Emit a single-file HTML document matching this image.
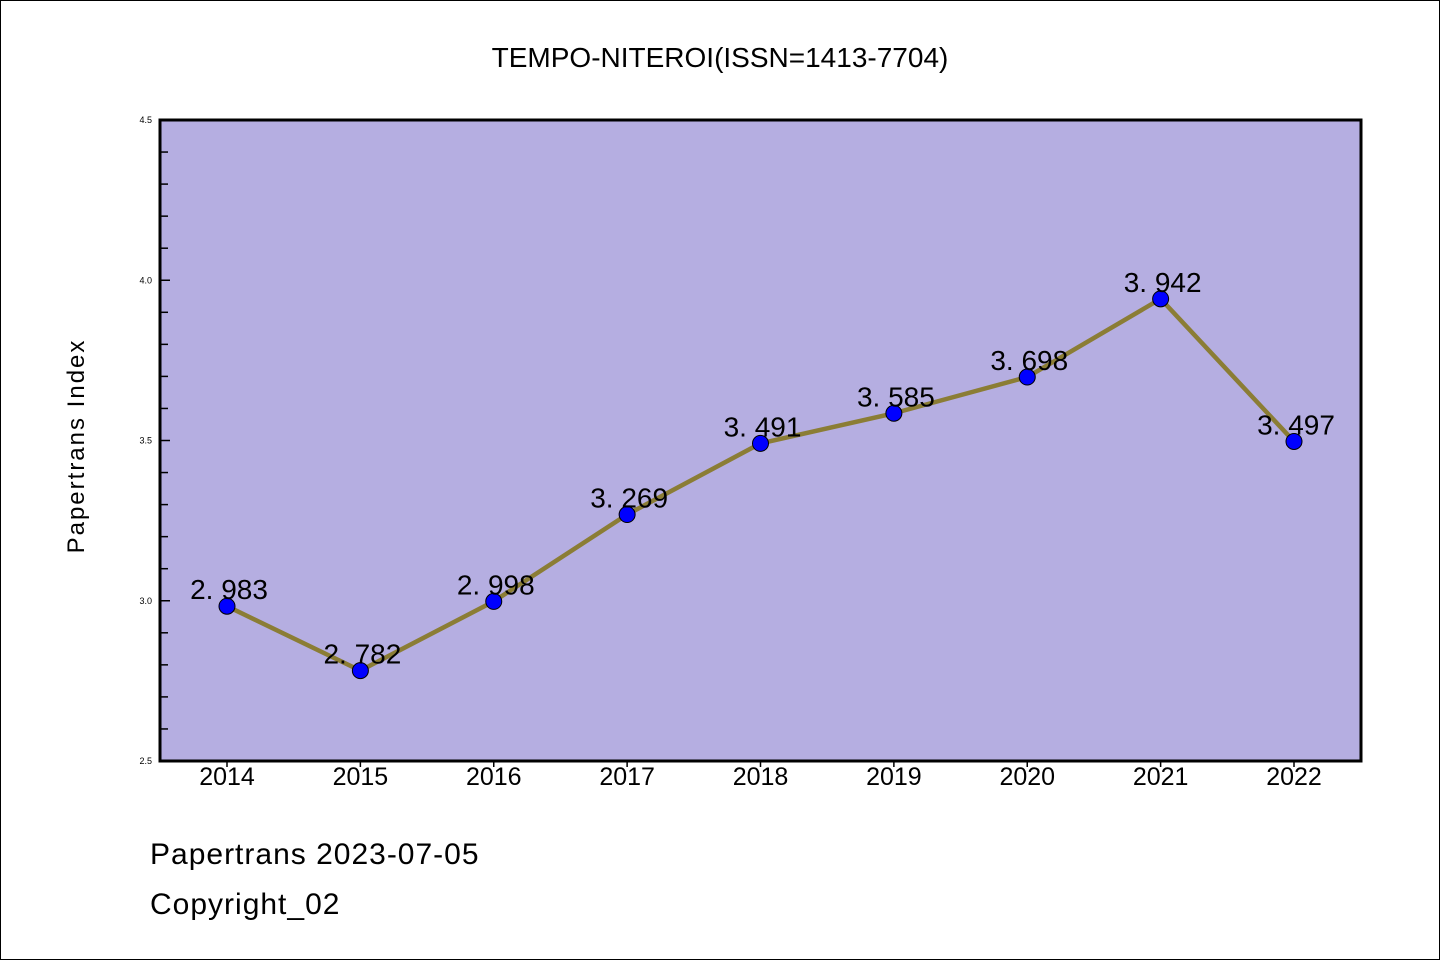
<!DOCTYPE html>
<html><head><meta charset="utf-8"><style>
body{margin:0;background:#fff;}
svg text{font-family:"Liberation Sans","Noto Sans CJK SC",sans-serif;}
</style></head><body>
<svg width="1440" height="960" viewBox="0 0 1440 960" xmlns="http://www.w3.org/2000/svg">
<rect x="0.5" y="0.5" width="1439" height="959" fill="#fff" stroke="#000" stroke-width="1"/>
<text x="720" y="67" font-size="28" text-anchor="middle">TEMPO-NITEROI(ISSN=1413-7704)</text>
<rect x="160" y="120" width="1201" height="641" fill="#b5aee1"/>
<g id="ticks"></g>
<g id="series"></g>
<rect x="160" y="120" width="1201" height="641" fill="none" stroke="#000" stroke-width="3"/>
<text transform="translate(84,446) rotate(-90)" font-size="24" text-anchor="middle" letter-spacing="2">Papertrans Index</text>
<text x="150" y="864" font-size="30" letter-spacing="1">Papertrans 2023-07-05</text>
<text x="150" y="914" font-size="30" letter-spacing="1">Copyright_02</text>
</svg>
<script>
const years=["2014","2015","2016","2017","2018","2019","2020","2021","2022"];
const values=[2.983,2.782,2.998,3.269,3.491,3.585,3.698,3.942,3.497];
const yTicks=["2.5","3.0","3.5","4.0","4.5"];
const NS="http://www.w3.org/2000/svg";
const X0=160,X1=1361,Y0=761,Y1=120,ymin=2.5,ymax=4.5;
function xs(i){return 227+i*(1294-227)/(years.length-1);}
function ys(v){return Y0-(v-ymin)/(ymax-ymin)*(Y0-Y1);}
function mk(t,a,p){const e=document.createElementNS(NS,t);for(const k in a)e.setAttribute(k,a[k]);p.appendChild(e);return e;}
const tg=document.getElementById('ticks'),sg=document.getElementById('series');
for(let k=0;k<=20;k++){const v=ymin+k*0.1;const y=ys(v);const major=k%5===0;
 const t=mk('line',{x1:X0,x2:X0+(major?10:8),y1:y,y2:y,stroke:'#000','stroke-width':1.5},tg);
 
 
 if(major){const l=mk('text',{x:X0-8,y:y+3,'font-size':9,'text-anchor':'end'},tg);l.textContent=yTicks[k/5];
 
 }}
years.forEach((yr,i)=>{const x=xs(i);
 const t=mk('line',{x1:x,x2:x,y1:Y0,y2:Y0+6,stroke:'#000','stroke-width':1.5},tg);
 
 
 const l=mk('text',{x:x,y:785,'font-size':25,'text-anchor':'middle'},tg);l.textContent=yr;
 
 });
const pts=values.map((v,i)=>xs(i)+','+ys(v)).join(' ');
const pl=mk('polyline',{points:pts,fill:'none',stroke:'#8b7d35','stroke-width':4.5,'stroke-linejoin':'round'},sg);


values.forEach((v,i)=>{
 const c=mk('circle',{cx:xs(i),cy:ys(v),r:8,fill:'#0000ff',stroke:'#000','stroke-width':1},sg);
 
 
 const l=mk('text',{x:xs(i)+2,y:ys(v)-7,'font-size':28,'text-anchor':'middle'},sg);l.textContent=v.toFixed(3).replace('.','. ');
 
 });
</script>
</body></html>
